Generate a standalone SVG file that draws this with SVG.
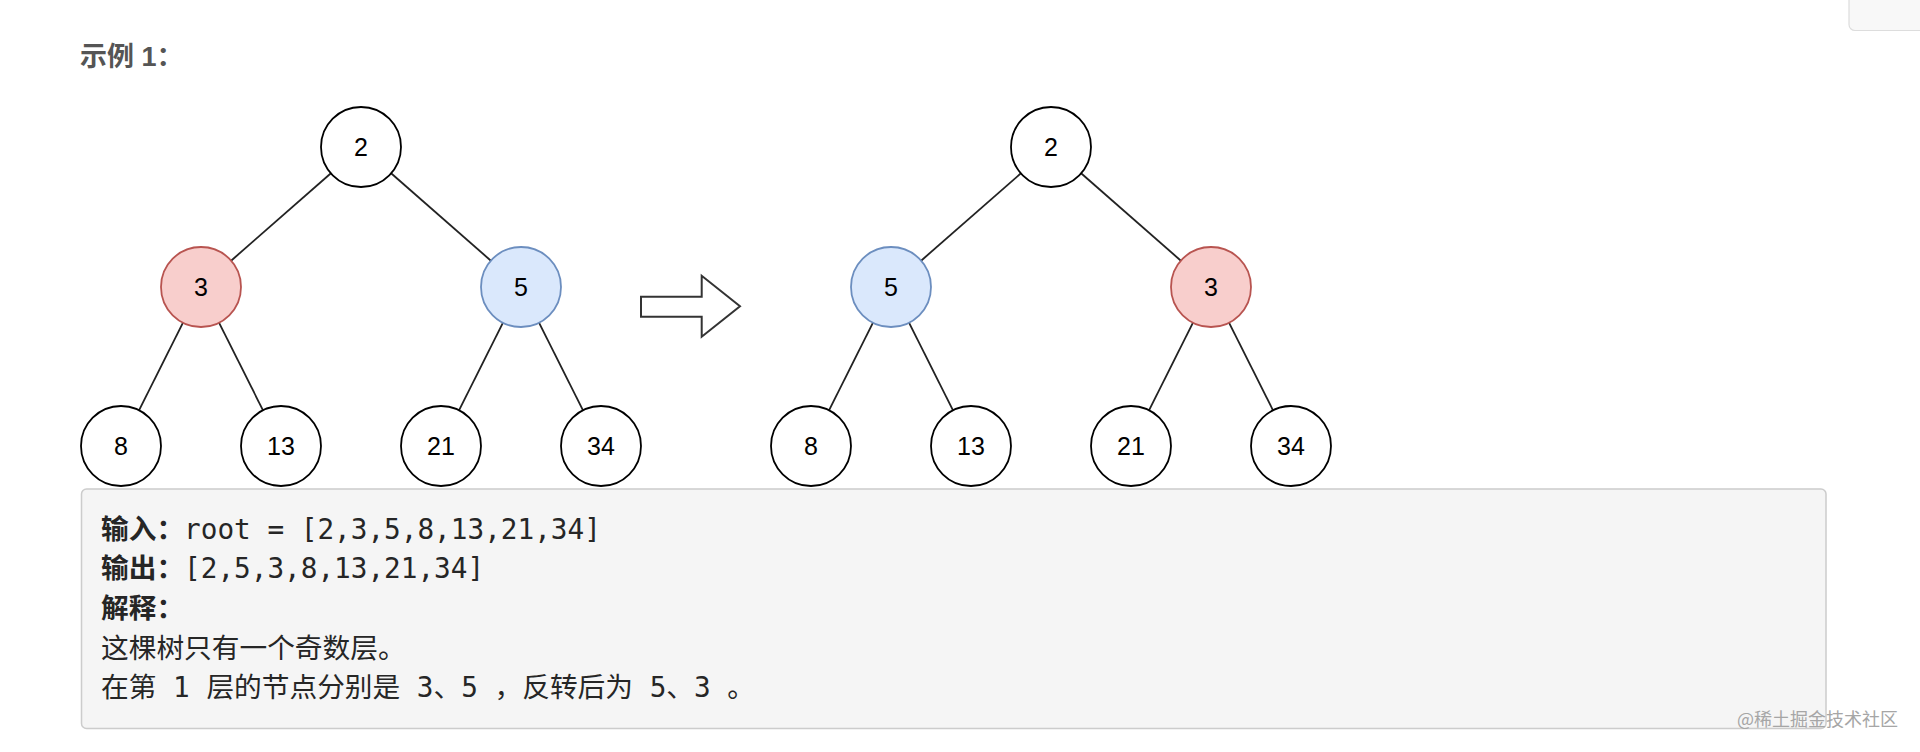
<svg xmlns="http://www.w3.org/2000/svg" width="1920" height="752" viewBox="0 0 1920 752">
<style>
.n{fill:#ffffff;stroke:#000000;stroke-width:1.8}
.red{fill:#f8cecc;stroke:#b85450;stroke-width:1.8}
.blue{fill:#dae8fc;stroke:#6c8ebf;stroke-width:1.8}
.lbl{font-family:"Liberation Sans",Arial,sans-serif;font-size:25px;fill:#000;text-anchor:middle}
.edge{stroke:#222222;stroke-width:1.8;fill:none}
.pre{font-family:"DejaVu Sans Mono","Noto Sans CJK SC",monospace;font-size:27.7px;fill:#262626}
.b{font-weight:bold}
</style>
<rect width="1920" height="752" fill="#ffffff"/>
<rect x="1849" y="-10" width="90" height="40.5" rx="6" fill="#f8f8f8" stroke="#dddddd" stroke-width="1.2"/>
<text x="80" y="65.5" font-family="'Liberation Sans','Noto Sans CJK SC',sans-serif" font-size="27" font-weight="bold" fill="#555555">示例 1：</text>
<g id="connectors">
<line class="edge" x1="330.9" y1="173.3" x2="231.1" y2="260.7"/>
<line class="edge" x1="391.1" y1="173.3" x2="490.9" y2="260.7"/>
<line class="edge" x1="183" y1="322.7" x2="139" y2="410.3"/>
<line class="edge" x1="219" y1="322.7" x2="263" y2="410.3"/>
<line class="edge" x1="503" y1="322.7" x2="459" y2="410.3"/>
<line class="edge" x1="539" y1="322.7" x2="583" y2="410.3"/>
<line class="edge" x1="1020.9" y1="173.3" x2="921.1" y2="260.7"/>
<line class="edge" x1="1081.1" y1="173.3" x2="1180.9" y2="260.7"/>
<line class="edge" x1="873" y1="322.7" x2="829" y2="410.3"/>
<line class="edge" x1="909" y1="322.7" x2="953" y2="410.3"/>
<line class="edge" x1="1193" y1="322.7" x2="1149" y2="410.3"/>
<line class="edge" x1="1229" y1="322.7" x2="1273" y2="410.3"/>
</g>
<g id="t1-root"><circle class="n" cx="361" cy="147" r="40"/><text class="lbl" x="361" y="156">2</text></g>
<g id="t1-n3"><circle class="red" cx="201" cy="287" r="40"/><text class="lbl" x="201" y="296">3</text></g>
<g id="t1-n5"><circle class="blue" cx="521" cy="287" r="40"/><text class="lbl" x="521" y="296">5</text></g>
<g id="t1-n8"><circle class="n" cx="121" cy="446" r="40"/><text class="lbl" x="121" y="455">8</text></g>
<g id="t1-n13"><circle class="n" cx="281" cy="446" r="40"/><text class="lbl" x="281" y="455">13</text></g>
<g id="t1-n21"><circle class="n" cx="441" cy="446" r="40"/><text class="lbl" x="441" y="455">21</text></g>
<g id="t1-n34"><circle class="n" cx="601" cy="446" r="40"/><text class="lbl" x="601" y="455">34</text></g>
<g id="arrow"><polygon points="641,296.7 701.7,296.7 701.7,275.7 740,306.2 701.7,336.7 701.7,316.7 641,316.7" fill="#ffffff" stroke="#333333" stroke-width="2"/></g>
<g id="t2-root"><circle class="n" cx="1051" cy="147" r="40"/><text class="lbl" x="1051" y="156">2</text></g>
<g id="t2-n5"><circle class="blue" cx="891" cy="287" r="40"/><text class="lbl" x="891" y="296">5</text></g>
<g id="t2-n3"><circle class="red" cx="1211" cy="287" r="40"/><text class="lbl" x="1211" y="296">3</text></g>
<g id="t2-n8"><circle class="n" cx="811" cy="446" r="40"/><text class="lbl" x="811" y="455">8</text></g>
<g id="t2-n13"><circle class="n" cx="971" cy="446" r="40"/><text class="lbl" x="971" y="455">13</text></g>
<g id="t2-n21"><circle class="n" cx="1131" cy="446" r="40"/><text class="lbl" x="1131" y="455">21</text></g>
<g id="t2-n34"><circle class="n" cx="1291" cy="446" r="40"/><text class="lbl" x="1291" y="455">34</text></g>
<g id="example-box">
<rect x="81.5" y="489" width="1744.5" height="239.5" rx="5" fill="#f5f5f5" stroke="#cccccc" stroke-width="1.5"/>
<text class="pre" x="101" y="538.5"><tspan class="b">输入：</tspan>root = [2,3,5,8,13,21,34]</text>
<text class="pre" x="101" y="578.2"><tspan class="b">输出：</tspan>[2,5,3,8,13,21,34]</text>
<text class="pre b" x="101" y="617.9">解释：</text>
<text class="pre" x="101" y="657.6">这棵树只有一个奇数层。</text>
<text class="pre" x="101" y="697.3" xml:space="preserve">在第 1 层的节点分别是 3、5 ，反转后为 5、3 。</text>
</g>
<text x="1737" y="726" font-family="'Noto Sans CJK SC',sans-serif" font-size="18" fill="#a6a6a6">@稀土掘金技术社区</text>
</svg>
